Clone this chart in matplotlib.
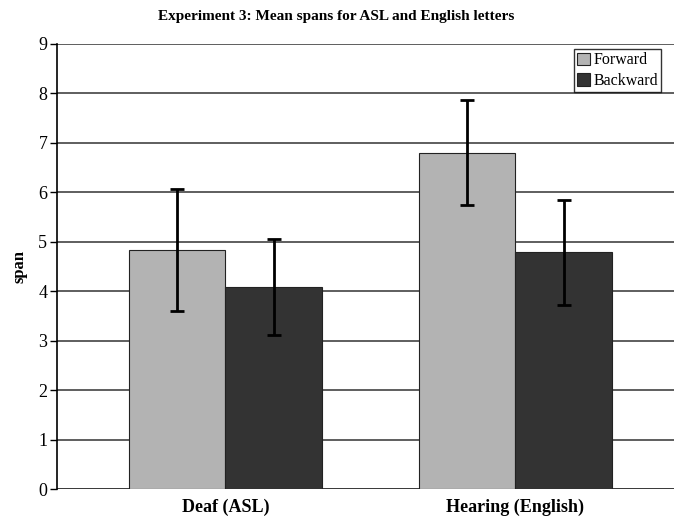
import matplotlib
matplotlib.use('Agg')
import matplotlib.pyplot as plt
import numpy as np

groups = ['Deaf (ASL)', 'Hearing (English)']
series = ['Forward', 'Backward']
means = {'Forward': [4.84, 6.80], 'Backward': [4.09, 4.79]}
errs = {'Forward': [1.23, 1.06], 'Backward': [0.97, 1.06]}
colors = {'Forward': '#b3b3b3', 'Backward': '#333333'}
yticks = list(range(0, 10))

plt.rcParams['font.family'] = 'Liberation Serif'

fig = plt.figure(figsize=(6.74, 5.2), dpi=100)
ax = fig.add_axes([57 / 674, 31 / 520, 617 / 674, 445 / 520])

x = np.arange(len(groups))
w = 0.333
for i, s in enumerate(series):
    pos = x + (i - 0.5) * w
    ax.bar(pos, means[s], width=w, color=colors[s], edgecolor='#222222',
           linewidth=0.8, label=s, zorder=2)
    ax.errorbar(pos, means[s], yerr=errs[s], fmt='none', ecolor='black',
                elinewidth=2, capsize=5, capthick=2, zorder=3)

ax.set_ylim(0, 9)
ax.set_xlim(-0.581, 1.547)
ax.set_yticks(yticks)
ax.set_yticklabels([str(t) for t in yticks], fontsize=13)
ax.yaxis.grid(True, color='#333333', linewidth=1.1)
ax.set_axisbelow(True)
ax.set_xticks(x)
ax.set_xticklabels(groups, fontsize=13, fontweight='bold')
ax.tick_params(axis='x', length=0, pad=7)
ax.tick_params(axis='y', direction='out', length=5, width=1, pad=2)
for sp in ['top', 'right', 'bottom']:
    ax.spines[sp].set_visible(False)
ax.spines['left'].set_linewidth(1.2)
ax.axhline(0, color='#333333', linewidth=1.1, zorder=1)

ax.set_ylabel('span', fontsize=12, fontweight='bold', labelpad=8)
ax.set_title('Experiment 3: Mean spans for ASL and English letters',
             fontsize=11, fontweight='bold', pad=17, x=(336 - 57) / 617)

leg = ax.legend(loc='upper right', bbox_to_anchor=(604 / 617, 1 - 5 / 445),
                fontsize=11.5, frameon=True, fancybox=False, handlelength=0.8,
                handleheight=0.8, handletextpad=0.2, borderpad=0.2,
                labelspacing=0.3, borderaxespad=0)
leg.get_frame().set_edgecolor('black')
leg.get_frame().set_linewidth(1)

fig.savefig('out.png', dpi=100)
